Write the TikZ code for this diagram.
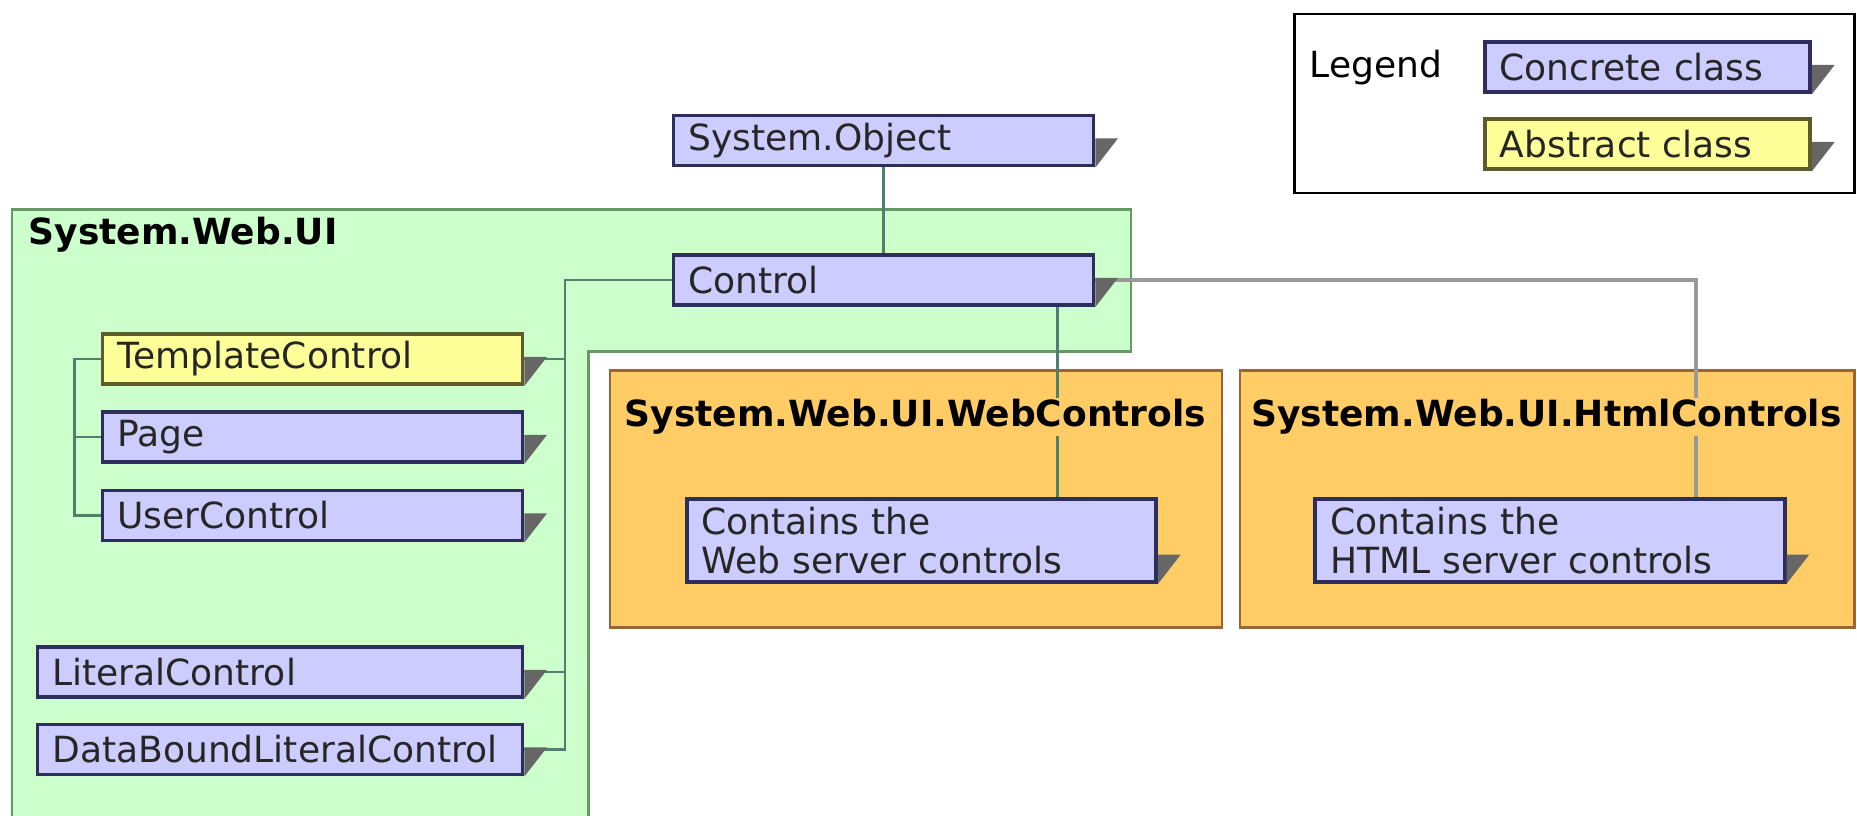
\documentclass[tikz,border=0pt]{standalone}
\usepackage{fontspec}
\setmainfont{DejaVu Sans}
\definecolor{concfill}{HTML}{CCCCFF}
\definecolor{concline}{HTML}{2E2E5C}
\definecolor{absfill}{HTML}{FFFF99}
\definecolor{absline}{HTML}{5C5C2E}
\definecolor{shadowcol}{HTML}{666666}
\definecolor{grnfill}{HTML}{CCFFCC}
\definecolor{grnline}{HTML}{669966}
\definecolor{orgfill}{HTML}{FFCC66}
\definecolor{orgline}{HTML}{996633}
\definecolor{linkcol}{HTML}{4F7F6F}
\definecolor{graycol}{HTML}{999999}
\newcommand\diagfont{\fontsize{20.5}{22.5}\selectfont}
\tikzset{
  cls/.style={draw=concline, fill=concfill, line width=2.2pt, text width=#1, align=left,
    inner xsep=0.3cm, inner ysep=0.15cm, minimum height=1cm, text=black!85},
  abst/.style={cls=#1, draw=absline, fill=absfill},
  pkg/.style={draw=orgline, fill=orgfill, line width=1.5pt},
  pkgtitle/.style={fill=orgfill, inner sep=1pt, font=\diagfont\bfseries},
  link/.style={draw=linkcol, line width=1.2pt},
}
\begin{document}
\begin{tikzpicture}[font=\diagfont]
\useasboundingbox (0,0) rectangle (37.14,16.32);
% packages
\filldraw [draw=grnline, fill=grnfill, line width=1.5pt] (0.24,-0.3)--(0.24,12.13)--(22.62,12.13)--(22.62,9.29)--(11.77,9.29)--(11.77,-0.3)--cycle;
\filldraw [pkg] (12.20,3.77) rectangle (24.44,8.91);
\filldraw [pkg] (24.80,3.77) rectangle (37.09,8.91);
\draw [line width=1.2pt] (25.89,12.46) rectangle (37.09,16.04);
% classes
\node[cls=7.8cm] (sysobj) at (17.67,13.51) {System.Object};
\node[cls=7.8cm] (ctrl) at (17.67,10.72) {Control};
\node[abst=7.8cm] (tmpl) at (6.25,9.14) {TemplateControl};
\node[cls=7.8cm] (page) at (6.25,7.58) {Page};
\node[cls=7.8cm] (uctl) at (6.25,6.01) {UserControl};
\node[cls=9.1cm] (lit) at (5.60,2.88) {LiteralControl};
\node[cls=9.1cm] (dblit) at (5.60,1.33) {DataBoundLiteralControl};
\node[cls=8.79cm] (webin) at (18.43,5.51) {Contains the\\Web server controls};
\node[cls=8.79cm] (htmlin) at (31.00,5.51) {Contains the\\HTML server controls};
% legend
\node (leg) at (27.52,14.97) {Legend};
\node[cls=5.91cm] (conc) at (32.95,14.98) {Concrete class};
\node[abst=5.91cm] (abs) at (32.95,13.44) {Abstract class};
% connectors
\coordinate (trunk) at (11.30,10.72);
\coordinate (brk) at (1.49,9.14);
\coordinate (wtap) at (21.15,10.72);
\coordinate (htap) at (33.92,10.72);
\draw [link] (sysobj)--(ctrl);
\draw [link] (ctrl.west)--(trunk) |- (dblit.east);
\draw [link] (tmpl.east)--(tmpl.east -| trunk);
\draw [link] (lit.east)--(lit.east -| trunk);
\draw [link] (tmpl.west)--(brk) |- (uctl.west);
\draw [link] (page.west)--(page.west -| brk);
\draw [link] (wtap |- ctrl.south)--(wtap |- webin.north);
\draw [draw=graycol, line width=2pt] (ctrl.east)--(htap)--(htap |- htmlin.north);
% shadows
\foreach \n in {sysobj,ctrl,tmpl,page,uctl,lit,dblit,webin,htmlin,conc,abs}
  \fill [shadowcol] ([yshift=0.58cm]\n.south east)--++(0.45,0)--(\n.south east)--cycle;
% package titles
\node[anchor=west, font=\diagfont\bfseries] (uititle) at (0.45,11.63) {System.Web.UI};
\node[pkgtitle] (webtitle) at (18.31,7.98) {System.Web.UI.WebControls};
\node[pkgtitle] (htmltitle) at (30.93,7.98) {System.Web.UI.HtmlControls};
\end{tikzpicture}
\end{document}
